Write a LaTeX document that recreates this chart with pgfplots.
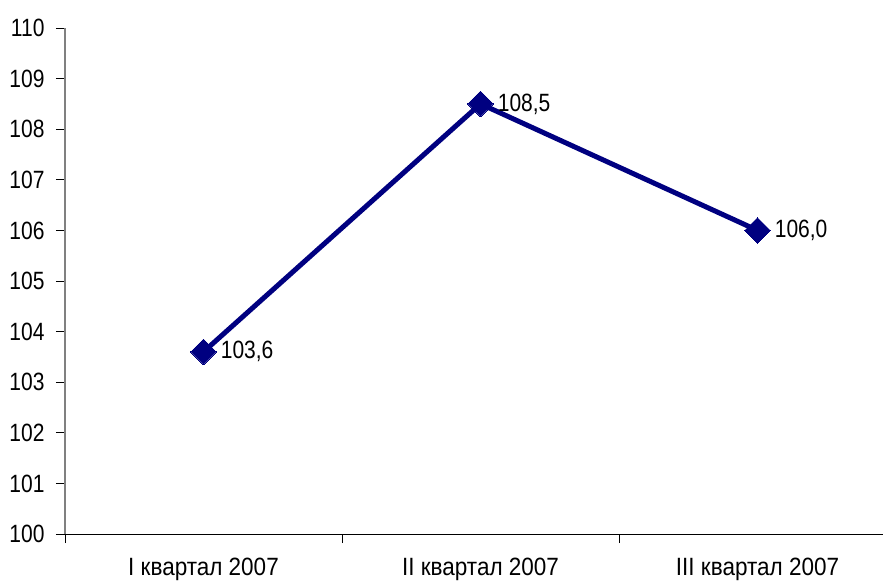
\documentclass[border=0pt]{standalone}
\usepackage{pgfplots}
\pgfplotsset{compat=1.18}
\usepackage{fontspec}
\setmainfont{Liberation Sans}[FakeStretch=0.84]
\newfontfamily\catfont{Liberation Sans}[FakeStretch=0.9]
\definecolor{navyline}{HTML}{000080}
\definecolor{axisgray}{HTML}{808080}

\begin{document}
\begin{tikzpicture}
\begin{axis}[
  scale only axis,
  width=818pt, height=506pt,
  xmin=0.5, xmax=3.453,
  ymin=100, ymax=110,
  ytick={100,101,...,110},
  xtick={0.5,1.5,2.5},
  xticklabels={},
  extra x ticks={1,2,3},
  extra x tick labels={I квартал 2007, II квартал 2007, III квартал 2007},
  extra x tick style={major tick length=0pt,
    tick label style={yshift=-21pt, font=\catfont\fontsize{25}{28}\selectfont}},
  axis x line*=bottom,
  axis y line*=left,
  x axis line style={black, line width=1pt, -},
  y axis line style={axisgray, line width=1.2pt, -},
  tick style={black, line width=0.8pt},
  major tick length=9pt,
  xtick align=outside, ytick align=outside,
  tick label style={font=\fontsize{25}{28}\selectfont},
  /pgf/number format/assume math mode=true,
  yticklabel style={xshift=-8pt},
  clip=false,
]
\addplot[
  navyline, line width=5pt,
  mark=square*, mark size=9pt,
  mark options={solid, rotate=45, line width=0pt, fill=navyline},
  nodes near coords={\pgfmathprintnumber[fixed, fixed zerofill, precision=1, use comma]{\pgfplotspointmeta}},
  nodes near coords style={anchor=west, xshift=14pt, text=black, font=\fontsize{25}{28}\selectfont},
] coordinates {(1,103.6) (2,108.5) (3,106.0)};
\coordinate (sw) at (rel axis cs:0,0);
\coordinate (ne) at (rel axis cs:1,1);
\end{axis}
\pgfresetboundingbox
\path[use as bounding box] ([xshift=-65pt,yshift=-50pt]sw) rectangle ([yshift=28pt]ne);
\end{tikzpicture}
\end{document}
